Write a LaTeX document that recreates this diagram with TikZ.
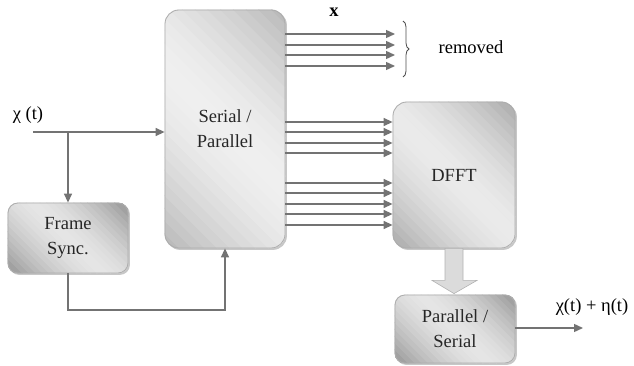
\documentclass[tikz,border=0pt]{standalone}
\usepackage{fontspec}
\setmainfont{Liberation Serif}
\usepackage{tikz}
\usetikzlibrary{arrows.meta,positioning,calc,backgrounds,decorations.pathreplacing}
\newcommand{\lbl}{\fontsize{18.5}{25}\selectfont}
% shadow and diagonal bands behind a block: node, corner radius, band step, light, dark
\newcommand{\blkshade}[5]{%
  \begin{scope}[on background layer]
    \fill[black!22,rounded corners=#2] ($(#1.south west)+(1.5,1.5)$) rectangle ($(#1.north east)+(1.5,1.5)$);
    \begin{scope}
      \clip[rounded corners=#2] (#1.south west) rectangle (#1.north east);
      \begin{scope}[shift={(#1.center)},rotate=45]
        \foreach \i in {-14,...,13} {
          \pgfmathsetmacro\shd{#4+(#5-#4)*(abs(\i+0.5)/14)^1.6}
          \fill[black!\shd] (\i*#3,-300) rectangle ({(\i+1)*#3+0.6},300);
        }
      \end{scope}
    \end{scope}
  \end{scope}}
\tikzset{
  blk/.style={draw=black!32,line width=0.8pt,rounded corners=14pt,align=center,
    font=\lbl,text=black!85},
  flow/.style={-{Triangle[length=9pt,width=8pt]},draw=black!55,line width=1.4pt},
}

\begin{document}
\begin{tikzpicture}[x=1pt,y=-1pt,every node/.style={font=\lbl}]
\useasboundingbox (0,0) rectangle (634,366);
% blocks
\node[blk,minimum width=120,minimum height=238] (sp) at (225,129) {Serial /\\Parallel};
\node[blk,rounded corners=10pt,minimum width=120,minimum height=70] (fs) at (68,238) {Frame\\Sync.};
\node[blk,minimum width=122,minimum height=146] (dfft) at (454,175) {DFFT};
\node[blk,rounded corners=10pt,minimum width=120,minimum height=68] (ps) at (455,329) {Parallel /\\Serial};
\blkshade{sp}{14pt}{9}{6}{28}
\blkshade{fs}{10pt}{4.8}{10}{42}
\blkshade{dfft}{14pt}{6.8}{8}{34}
\blkshade{ps}{10pt}{4.8}{10}{42}
% input and frame sync loop
\node (xin) at (28,115) {χ (t)};
\coordinate (in) at (33,132);
\coordinate (br) at (68,132);
\draw[flow] (in) -- (in -| sp.west);
\draw[flow] (br) -- (fs.north);
\draw[flow] (fs.south) -- (fs.south |- 0,310) -| (sp.south);
% parallel outputs
\coordinate (rm) at (395,49);
\foreach \y in {34,45,55,66}
  \draw[flow] (sp.east |- 0,\y) -- (rm |- 0,\y);
\foreach \y in {122,132,143,153,183,193,204,214,225}
  \draw[flow] (sp.east |- 0,\y) -- (dfft.west |- 0,\y);
\node[font=\lbl\bfseries] (xv) at (334,12) {x};
\draw[black!70,line width=0.8pt,decorate,decoration={brace,amplitude=6pt}]
  ($(rm)+(8,-28)$) -- ($(rm)+(8,28)$);
\node (rmv) at (471,47) {removed};
% dfft to parallel/serial
\fill[black!14,draw=black!30,line width=0.6pt]
  ($(dfft.south)+(-9,0)$) -- ($(dfft.south)+(-9,32)$) -- ($(dfft.south)+(-22,32)$)
  -- ($(ps.north)+(-1,-1)$) -- ($(dfft.south)+(23,32)$) -- ($(dfft.south)+(9,32)$)
  -- ($(dfft.south)+(9,0)$) -- cycle;
% output
\coordinate (out) at (583,328);
\draw[flow] (ps.east |- out) -- (out);
\node (yout) at (592,307) {χ(t) + η(t)};
\end{tikzpicture}
\end{document}
